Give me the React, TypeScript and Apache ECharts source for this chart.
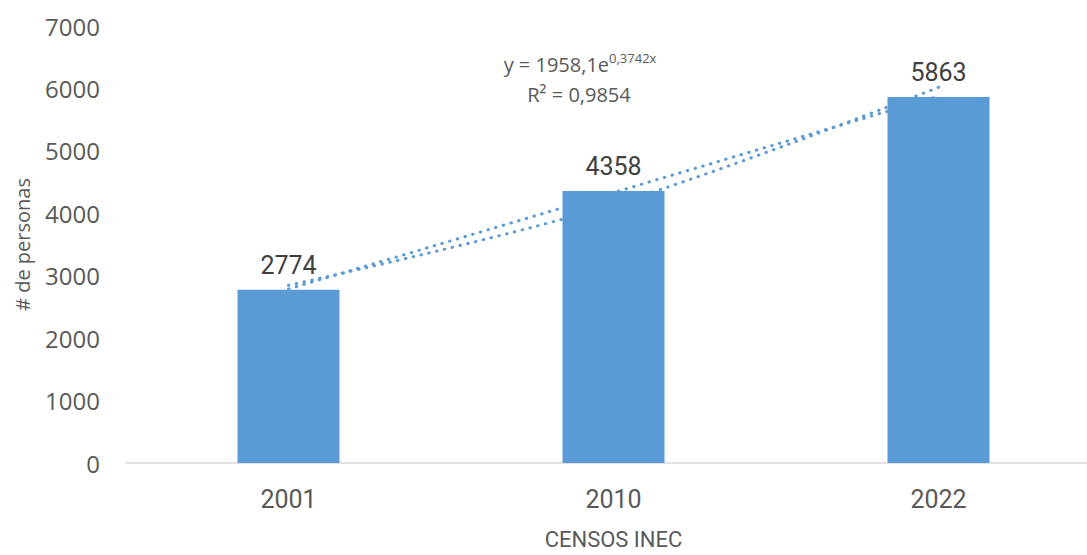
import React, { useEffect, useRef } from "react";
import * as echarts from "echarts";

const categories = ["2001", "2010", "2022"];
const personas = [2774, 4358, 5863];
// trend lines as shown in the chart (exponential with equation, and linear)
const expTrend = [2847, 4139, 6017];
const linearTrend = [2787, 4332, 5876];
const yTicks = { min: 0, max: 7000, interval: 1000 };
const equationLine1 = "y = 1958,1e";
const equationExp = "0,3742x";
const equationLine2 = "R² = 0,9854";
const xAxisTitle = "CENSOS INEC";
const yAxisTitle = "# de personas";

const BLUE = "#5B9BD5";
const GREY = "#595959";

export default function App() {
  const ref = useRef<HTMLDivElement>(null);
  useEffect(() => {
    if (!ref.current) return;
    const chart = echarts.init(ref.current, undefined, { renderer: "svg" });
    const dotted = {
      color: BLUE,
      width: 3,
      type: [0.5, 7.5] as any,
      cap: "round" as any,
    };
    chart.setOption({
      animation: false,
      backgroundColor: "#ffffff",
      grid: { left: 126, top: 26, width: 975, height: 440 },
      xAxis: {
        type: "category",
        data: categories,
        boundaryGap: true,
        axisLine: { show: true, lineStyle: { color: "#D9D9D9", width: 1.5 } },
        axisTick: { show: false },
        axisLabel: {
          margin: 24,
          fontSize: 25,
          color: GREY,
          fontFamily: "Roboto",
        },
        name: xAxisTitle,
        nameLocation: "middle",
        nameGap: 65,
        nameTextStyle: { fontSize: 22, color: GREY, fontFamily: "Roboto" },
      },
      yAxis: {
        type: "value",
        min: yTicks.min,
        max: yTicks.max,
        interval: yTicks.interval,
        axisLine: { show: false },
        axisTick: { show: false },
        splitLine: { show: false },
        axisLabel: {
          margin: 26,
          fontSize: 24,
          color: GREY,
          fontFamily: "Open Sans",
          formatter: (v: number) => String(v),
        },
        name: yAxisTitle,
        nameLocation: "middle",
        nameRotate: 90,
        nameGap: 94,
        nameTextStyle: { fontSize: 20, color: GREY, fontFamily: "Open Sans" },
      },
      series: [
        {
          type: "bar",
          data: personas,
          barWidth: 102,
          itemStyle: { color: BLUE },
          z: 2,
          label: {
            show: true,
            position: "top",
            distance: 12,
            fontSize: 25,
            color: "#404040",
            fontFamily: "Roboto",
          },
        },
        {
          type: "line",
          data: linearTrend,
          symbol: "none",
          lineStyle: dotted,
          z: 3,
        },
        {
          type: "line",
          data: expTrend,
          symbol: "none",
          smooth: 0.35,
          lineStyle: dotted,
          z: 3,
        },
      ],
      graphic: [
        {
          type: "text",
          x: 580,
          y: 64,
          style: {
            text: `{a|${equationLine1}}{b|${equationExp}}`,
            align: "center",
            verticalAlign: "middle",
            rich: {
              a: { fontSize: 20, fontFamily: "Open Sans", fill: GREY, color: GREY, lineHeight: 26 },
              b: { fontSize: 13, fontFamily: "Open Sans", fill: GREY, color: GREY, lineHeight: 26, verticalAlign: "top", padding: [0, 0, 8, 0] },
            },
          },
        },
        {
          type: "text",
          x: 579,
          y: 94,
          style: {
            text: equationLine2,
            fontSize: 20,
            fontFamily: "Open Sans",
            fill: GREY,
            align: "center",
            verticalAlign: "middle",
          },
        },
      ],
    });
    return () => chart.dispose();
  }, []);
  return (
    <div style={{ position: "fixed", left: 0, top: 0, width: 1087, height: 555, overflow: "hidden", background: "#fff" }}>
      <div ref={ref} style={{ width: 1102, height: 555 }} />
    </div>
  );
}
